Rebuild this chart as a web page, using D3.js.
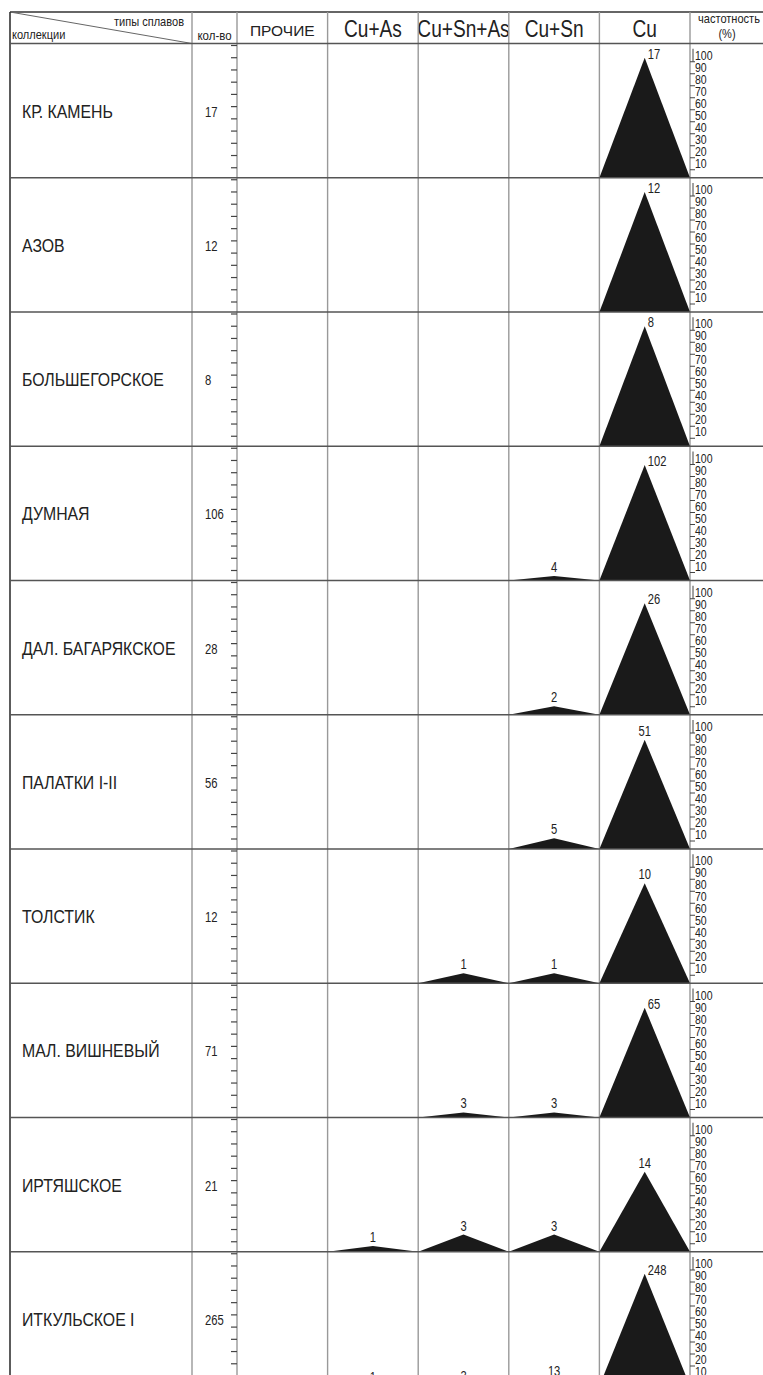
<!DOCTYPE html>
<html>
<head>
<meta charset="utf-8">
<script src="https://cdn.jsdelivr.net/npm/d3@7"></script>
<style>
  body { margin: 0; background: #fff; }
  text { font-family: "Liberation Sans", Arial, sans-serif; fill: #222; }
</style>
</head>
<body>
<svg id="chart"></svg>
<script>
// collections (rows) and alloy types (columns)
const collections = ["КР. КАМЕНЬ", "АЗОВ", "БОЛЬШЕГОРСКОЕ", "ДУМНАЯ", "ДАЛ. БАГАРЯКСКОЕ",
  "ПАЛАТКИ I-II", "ТОЛСТИК", "МАЛ. ВИШНЕВЫЙ", "ИРТЯШСКОЕ", "ИТКУЛЬСКОЕ I"];
const totals = [17, 12, 8, 106, 28, 56, 12, 71, 21, 265];
const alloyTypes = ["ПРОЧИЕ", "Cu+As", "Cu+Sn+As", "Cu+Sn", "Cu"];

// counts per alloy type, one value per collection
const prochie = [0, 0, 0, 0, 0, 0, 0, 0, 0, 0];
const cuAs = [0, 0, 0, 0, 0, 0, 0, 0, 1, 1];
const cuSnAs = [0, 0, 0, 0, 0, 0, 1, 3, 3, 3];
const cuSn = [0, 0, 0, 4, 2, 5, 1, 3, 3, 13];
const cu = [17, 12, 8, 102, 26, 51, 10, 65, 14, 248];
const seriesByType = { "ПРОЧИЕ": prochie, "Cu+As": cuAs, "Cu+Sn+As": cuSnAs, "Cu+Sn": cuSn, "Cu": cu };

const pctTicks = [10, 20, 30, 40, 50, 60, 70, 80, 90, 100];

const width = 763, height = 1375;
const tableLeft = 10, tableTop = 12, headerBottom = 43.5;
const nameRight = 192, countRight = 237, typesRight = 690;

const svg = d3.select("#chart").attr("width", width).attr("height", height);

const x = d3.scaleBand().domain(alloyTypes).range([countRight, typesRight]);
const y = d3.scaleBand().domain(collections).range([headerBottom, headerBottom + 134.25 * collections.length]);
const rowH = y.bandwidth();
// frequency in % inside one row
const pct = d3.scaleLinear().domain([0, 100]).range([rowH, rowH - 120]);
// tick scale of the count column
const cntTick = d3.scaleLinear().domain([0, 10]).range([rowH - 10, 2]);

// narrow text helper: condensed glyphs like the original
function narrow(sel, px, py, sx) {
  return sel.attr("transform", `translate(${px}, ${py}) scale(${sx}, 1)`);
}

// header
const header = svg.append("g");
header.append("line").attr("x1", tableLeft).attr("x2", width).attr("y1", tableTop).attr("y2", tableTop)
  .attr("stroke", "#333").attr("stroke-width", 1.5);
header.append("line").attr("x1", tableLeft).attr("y1", tableTop).attr("x2", nameRight).attr("y2", headerBottom)
  .attr("stroke", "#666").attr("stroke-width", 1);
narrow(header.append("text"), 184, 26, 0.85).attr("text-anchor", "end")
  .style("font-size", "13px").text("типы сплавов");
narrow(header.append("text"), 12, 39, 0.85)
  .style("font-size", "13px").text("коллекции");
narrow(header.append("text"), (nameRight + countRight) / 2, 40, 0.85).attr("text-anchor", "middle")
  .style("font-size", "13.5px").text("кол-во");
header.selectAll(".type-label")
  .data(alloyTypes)
  .enter()
  .append("text")
  .attr("class", "type-label")
  .attr("transform", (d) => `translate(${x(d) + x.bandwidth() / 2}, ${d === "ПРОЧИЕ" ? 36 : 37}) scale(${d === "ПРОЧИЕ" ? 1 : 0.83}, 1)`)
  .attr("text-anchor", "middle")
  .style("font-size", (d) => (d === "ПРОЧИЕ" ? "15.5px" : "23px"))
  .text((d) => d);
narrow(header.append("text"), 729, 23, 0.85).attr("text-anchor", "middle")
  .style("font-size", "13px").text("частотность");
narrow(header.append("text"), 727, 38, 0.85).attr("text-anchor", "middle")
  .style("font-size", "13px").text("(%)");

// vertical grid lines
const vLines = [tableLeft, nameRight, countRight].concat(alloyTypes.map((d) => x(d) + x.bandwidth()));
svg.selectAll(".vline")
  .data(vLines)
  .enter()
  .append("line")
  .attr("class", "vline")
  .attr("x1", (d) => d).attr("x2", (d) => d)
  .attr("y1", tableTop).attr("y2", height)
  .attr("stroke", (d, i) => (i === 0 ? "#333" : "#999"))
  .attr("stroke-width", (d, i) => (i === 0 ? 1.6 : 1.4));

// rows
const rows = svg.selectAll(".row")
  .data(collections)
  .enter()
  .append("g")
  .attr("class", "row")
  .attr("transform", (d) => `translate(0, ${y(d)})`);

rows.append("line")
  .attr("x1", tableLeft).attr("x2", width).attr("y1", 0).attr("y2", 0)
  .attr("stroke", "#555").attr("stroke-width", 1.4);

rows.append("text")
  .attr("transform", `translate(22, ${rowH / 2 + 7}) scale(0.88, 1)`)
  .style("font-size", "18px")
  .text((d) => d);

rows.append("text")
  .attr("transform", `translate(205, ${rowH / 2 + 6}) scale(0.75, 1)`)
  .style("font-size", "15px")
  .text((d, i) => totals[i]);

// count column ticks and frequency scale
rows.each(function () {
  const g = d3.select(this);
  g.selectAll(".ctick")
    .data(d3.range(0, 11))
    .enter()
    .append("line")
    .attr("x1", countRight - 6).attr("x2", countRight)
    .attr("y1", (d) => cntTick(d)).attr("y2", (d) => cntTick(d))
    .attr("stroke", "#444").attr("stroke-width", 1.2);

  g.selectAll(".ptick")
    .data(pctTicks)
    .enter()
    .append("line")
    .attr("x1", typesRight).attr("x2", typesRight + 5)
    .attr("y1", (d) => pct(d) + 4).attr("y2", (d) => pct(d) + 4)
    .attr("stroke", "#444").attr("stroke-width", 1);
  g.append("line")
    .attr("x1", typesRight + 3).attr("x2", typesRight + 3)
    .attr("y1", pct(100) - 9).attr("y2", pct(100) + 4)
    .attr("stroke", "#444").attr("stroke-width", 1);
  g.selectAll(".plabel")
    .data(pctTicks)
    .enter()
    .append("text")
    .attr("transform", (d) => `translate(${typesRight + 5}, ${pct(d) + 2}) scale(0.78, 1)`)
    .style("font-size", "13.5px")
    .text((d) => d);
});

// triangles
const half = x.bandwidth() / 2;
alloyTypes.forEach(function (type) {
  const values = seriesByType[type];
  rows.each(function (c, i) {
    const v = values[i];
    if (!v) return;
    const p = (v / totals[i]) * 100;
    const g = d3.select(this);
    const x0 = x(type);
    g.append("path")
      .attr("d", `M${x0},${rowH} L${x0 + half},${pct(p)} L${x0 + 2 * half},${rowH} Z`)
      .attr("fill", "#1a1a1a");
    const side = p > 91.3;
    g.append("text")
      .attr("transform", `translate(${x0 + half + (side ? 3 : 0)}, ${pct(p) - (side ? -1 : 4)}) scale(0.8, 1)`)
      .attr("text-anchor", side ? "start" : "middle")
      .style("font-size", "14px")
      .text(v);
  });
});
</script>
</body>
</html>
